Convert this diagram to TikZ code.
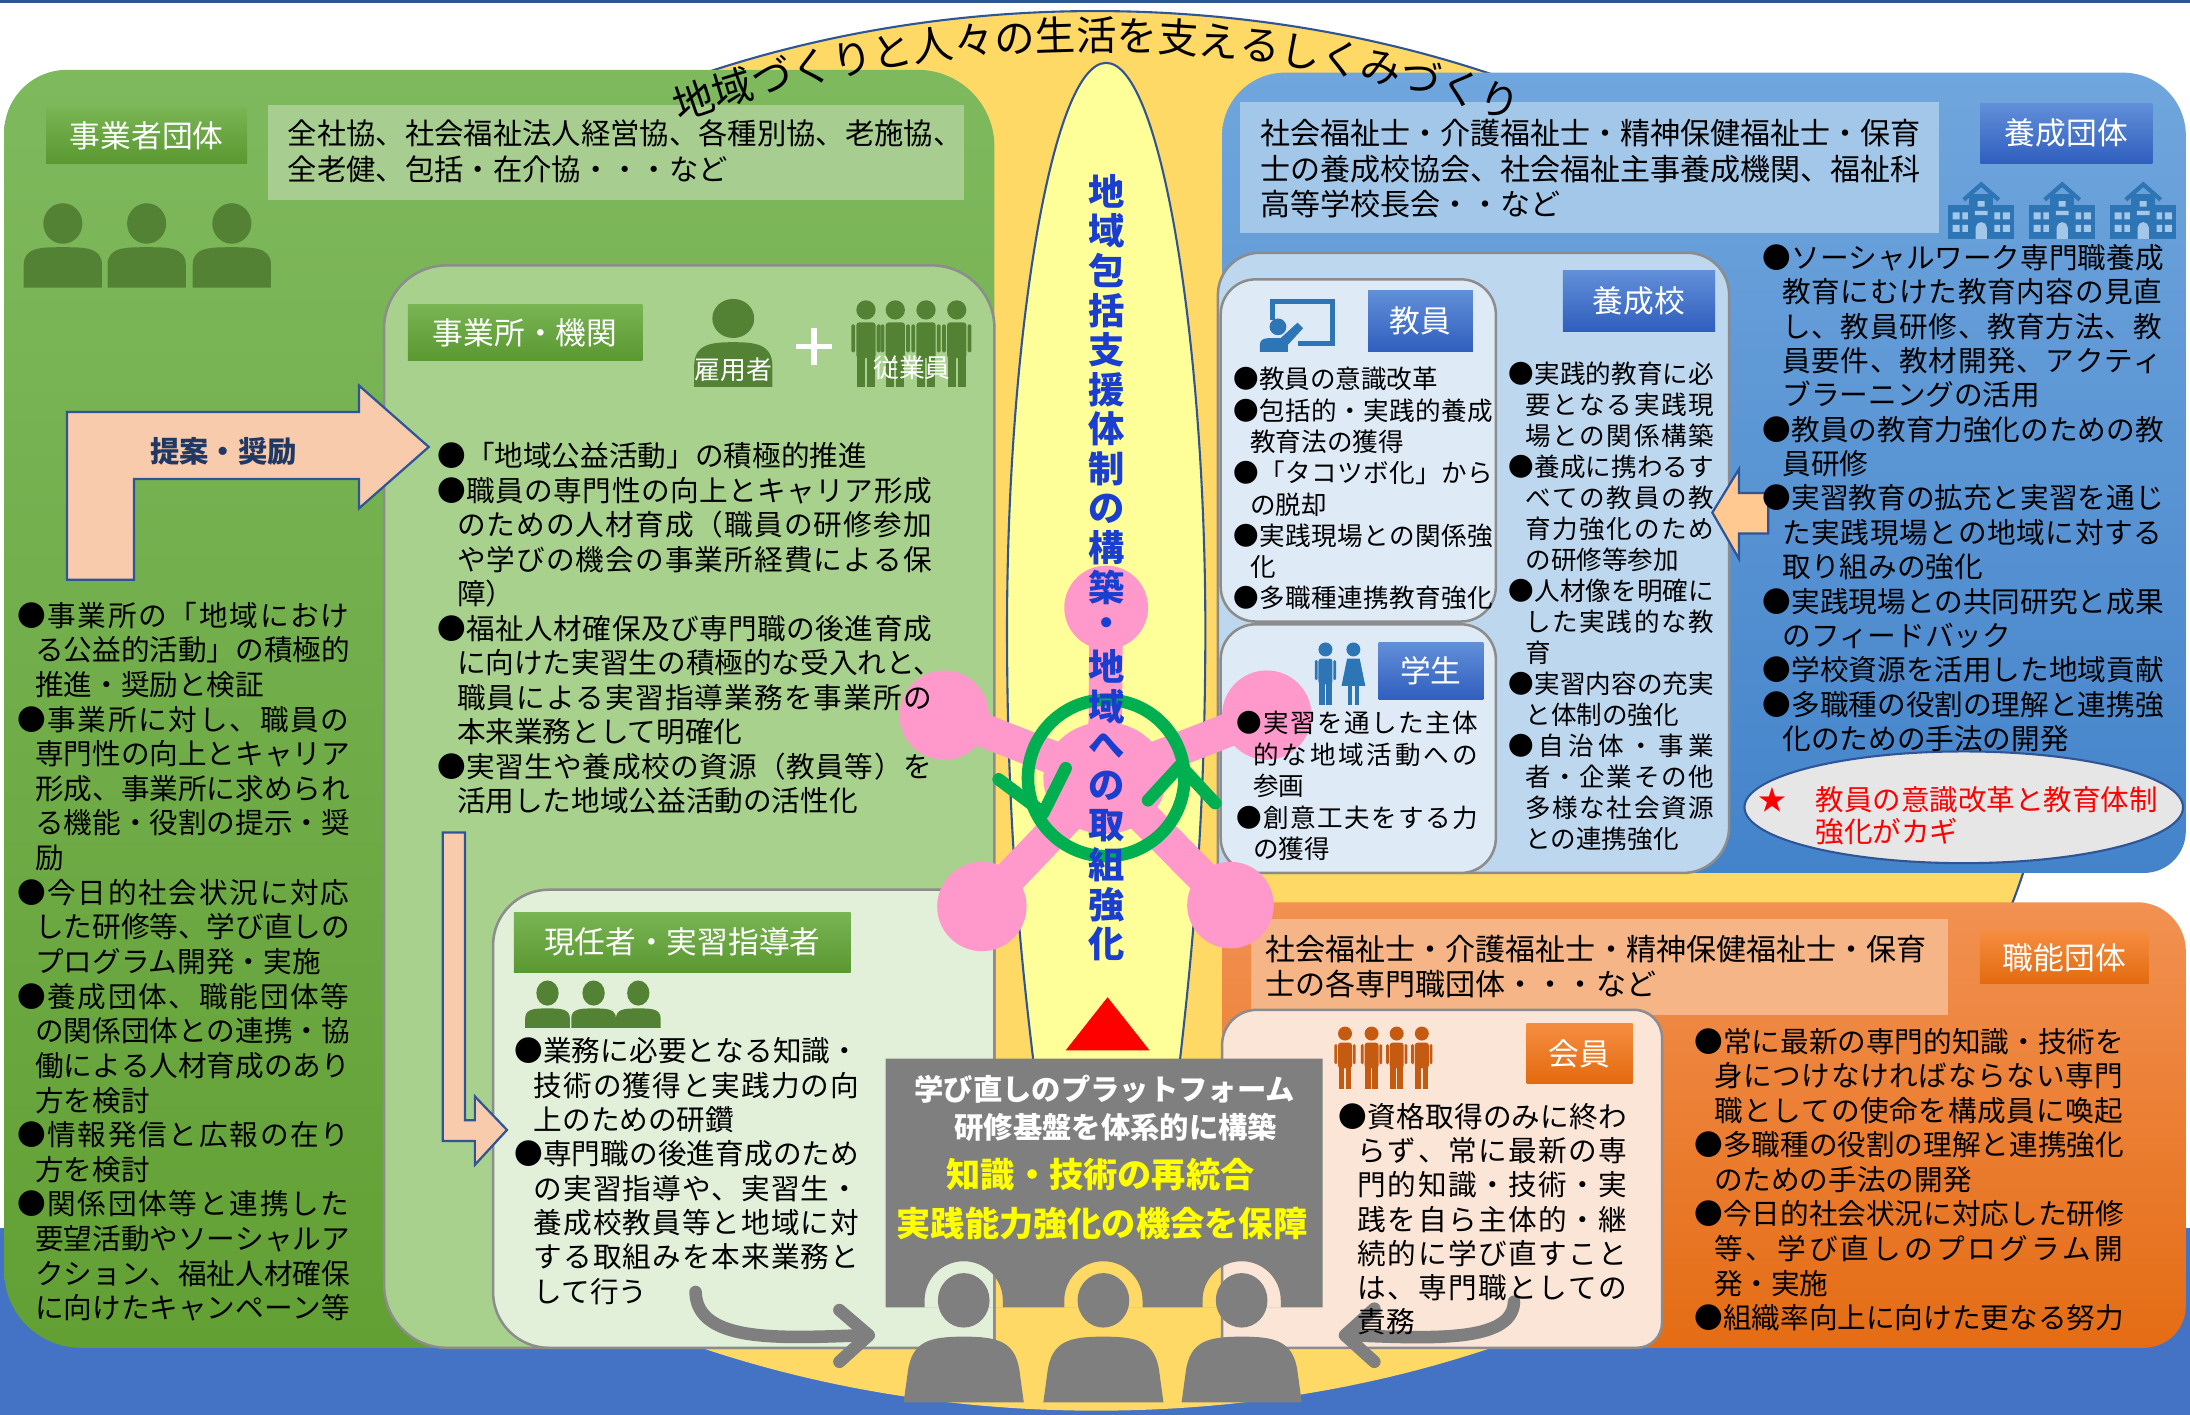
\documentclass[tikz,border=0pt]{standalone}
\usepackage{fontspec}
\setmainfont{Noto Sans CJK JP}
\usetikzlibrary{decorations.text}

\definecolor{navyline}{HTML}{2F5597}
\definecolor{bandblue}{HTML}{4472C4}
\definecolor{gold}{HTML}{FFD966}
\definecolor{paleyel}{HTML}{FFFF99}
\definecolor{grnTop}{HTML}{7FB95E}
\definecolor{grnBot}{HTML}{62A034}
\definecolor{grnLight}{HTML}{A9D18E}
\definecolor{grnPale}{HTML}{E2F0D9}
\definecolor{grnTex}{HTML}{A7CD90}
\definecolor{grnDark}{HTML}{548235}
\definecolor{labGTop}{HTML}{79B553}
\definecolor{labGBot}{HTML}{5A9831}
\definecolor{bluTop}{HTML}{70A6DD}
\definecolor{bluBot}{HTML}{4383CA}
\definecolor{bluLight}{HTML}{BDD7EE}
\definecolor{bluPale}{HTML}{DEEBF7}
\definecolor{bluTex}{HTML}{A3C7E8}
\definecolor{labBTop}{HTML}{628FD8}
\definecolor{labBBot}{HTML}{2F5EBE}
\definecolor{iconBlue}{HTML}{2E75B6}
\definecolor{orTop}{HTML}{F29152}
\definecolor{orBot}{HTML}{E46C14}
\definecolor{orPale}{HTML}{FBE5D6}
\definecolor{orTex}{HTML}{F5B587}
\definecolor{labOTop}{HTML}{F58D40}
\definecolor{labOBot}{HTML}{E36A0E}
\definecolor{orIcon}{HTML}{C55A11}
\definecolor{platGray}{HTML}{7F7F7F}
\definecolor{boxGray}{HTML}{8C8C8C}
\definecolor{pinkc}{HTML}{FF99CC}
\definecolor{ringGreen}{HTML}{00B050}
\definecolor{vtBlue}{HTML}{1A3FD0}
\definecolor{peach}{HTML}{F8CBAD}
\definecolor{peachB}{HTML}{FFC991}
\definecolor{navyText}{HTML}{1F3864}
\definecolor{starFill}{HTML}{E7E6E6}
\definecolor{brightYellow}{HTML}{FFFF00}

% justified line: characters spread over a fixed width
\ExplSyntaxOn
\NewDocumentCommand \jst { m m }
  { \makebox [ #1 ] [ s ] { \tl_map_inline:nn { #2 } { ##1 \hfil } \unskip } }
\ExplSyntaxOff
\newlength\tw
\newlength\ind
\newcommand\jb[1]{\jst{\tw}{#1}}
\newcommand\jc[1]{\hspace*{\ind}\jst{\dimexpr\tw-\ind\relax}{#1}}
\newcommand\nc[1]{\hspace*{\ind}#1}

% rounded rectangle with its own radius at each corner: x1 y1 x2 y2 tl tr br bl
\newcommand\rrect[8]{(#1+#5,#2) -- (#3-#6,#2) arc[start angle=270,end angle=360,radius=#6]
  -- (#3,#4-#7) arc[start angle=0,end angle=90,radius=#7]
  -- (#1+#8,#4) arc[start angle=90,end angle=180,radius=#8]
  -- (#1,#2+#5) arc[start angle=180,end angle=270,radius=#5] -- cycle}

% bust silhouette: x, head y, head rx, head ry, body top, half width, body bottom
\newcommand\bust[7]{%
  \fill (#1,#2) ellipse [x radius=#3, y radius=#4];
  \fill (#1-#6,#7) -- (#1-#6,#5+0.45*#6) .. controls (#1-#6,#5) and (#1-0.55*#6,#5) .. (#1,#5)
    .. controls (#1+0.55*#6,#5) and (#1+#6,#5) .. (#1+#6,#5+0.45*#6) -- (#1+#6,#7) -- cycle;}

% standing figure: x, top y, scale
\newcommand\stand[3]{%
  \fill (#1,#2+5*#3) circle [radius=5*#3];
  \fill[rounded corners=2pt] (#1-5*#3,#2+11.5*#3) rectangle (#1+5*#3,#2+30*#3);
  \fill[rounded corners=1pt] (#1-7.6*#3,#2+12.5*#3) rectangle (#1-5.6*#3,#2+27*#3);
  \fill[rounded corners=1pt] (#1+5.6*#3,#2+12.5*#3) rectangle (#1+7.6*#3,#2+27*#3);
  \fill (#1-4.6*#3,#2+28*#3) rectangle (#1-0.5*#3,#2+45*#3);
  \fill (#1+0.5*#3,#2+28*#3) rectangle (#1+4.6*#3,#2+45*#3);}

% standing figure with skirt
\newcommand\standf[3]{%
  \fill (#1,#2+5*#3) circle [radius=5*#3];
  \fill (#1-4.5*#3,#2+11.5*#3) -- (#1+4.5*#3,#2+11.5*#3) -- (#1+8.5*#3,#2+31*#3) -- (#1-8.5*#3,#2+31*#3) -- cycle;
  \fill (#1-4*#3,#2+30*#3) rectangle (#1-0.8*#3,#2+45*#3);
  \fill (#1+0.8*#3,#2+30*#3) rectangle (#1+4*#3,#2+45*#3);}

% school building: top-left x, y
\newcommand\bldg[2]{%
  \fill[iconBlue] (#1,#2+17) rectangle (#1+47,#2+41);
  \fill[iconBlue] (#1+15,#2+9) rectangle (#1+32,#2+41);
  \draw[iconBlue, line width=3pt] (#1+11,#2+13) -- (#1+23.5,#2+2) -- (#1+36,#2+13);
  \fill[bluTex] (#1+3,#2+22) rectangle ++(5,5) (#1+10,#2+22) rectangle ++(4,5)
    (#1+33,#2+22) rectangle ++(4,5) (#1+39,#2+22) rectangle ++(5,5)
    (#1+3,#2+31) rectangle ++(5,5) (#1+10,#2+31) rectangle ++(4,5)
    (#1+33,#2+31) rectangle ++(4,5) (#1+39,#2+31) rectangle ++(5,5)
    (#1+19,#2+21) rectangle ++(9,3) (#1+21,#2+14) rectangle ++(5,4);
  \fill[bluTex] (#1+19.5,#2+41) -- (#1+19.5,#2+33) arc[start angle=180,end angle=360,radius=4] -- (#1+27.5,#2+41) -- cycle;}

% seated member in front of the platform
\newcommand\seat[1]{%
  \fill (#1,931) ellipse [x radius=18.5, y radius=19.5];
  \fill (#1-43,1004) -- (#1-40,982) .. controls (#1-37,960) and (#1-24,957) .. (#1,957)
    .. controls (#1+24,957) and (#1+37,960) .. (#1+40,982) -- (#1+43,1004) -- cycle;}

\begin{document}
\begin{tikzpicture}[x=1pt,y=-1pt,
  txt/.style={anchor=north west, inner sep=0pt, align=left},
  lab/.style={inner sep=0pt, text=white, font=\fontsize{22}{22}\selectfont},
  glab/.style={lab, top color=labGTop, bottom color=labGBot},
  blab/.style={lab, top color=labBTop, bottom color=labBBot},
  olab/.style={lab, top color=labOTop, bottom color=labOBot},
  frame/.style={draw=boxGray, line width=1.8pt},
  arrowfill/.style={draw=navyline, line width=1.6pt},
  pinkarm/.style={pinkc, line width=24pt},
  ringline/.style={ringGreen, line width=9pt, line cap=round, line join=round},
  grayarrow/.style={platGray, line width=9pt, line cap=round, line join=round},
]
\useasboundingbox (0,0) rectangle (1568,1013);
\fill[white] (0,0) rectangle (1568,1013);
\fill[bandblue] (0,879) rectangle (1568,1013);
\draw[navyline, line width=2.5pt] (0,1) -- (1568,1);

% large community circle
\fill[gold] (785,509) ellipse [x radius=682, y radius=501];
\draw[navyline, line width=1.5pt] (785,509) ++(150:682 and 501) arc[start angle=150, end angle=390, x radius=682, y radius=501];

% ---------- employers' organisations (green) ----------
\shade[top color=grnTop, bottom color=grnBot] \rrect{3}{50}{712}{965}{45}{55}{0.01}{55};
\fill[grnTex] (192,75) rectangle (690,143);
\begin{scope}[fill=grnDark]
  \bust{45}{160}{14}{14.5}{177}{28}{206}
  \bust{105}{160}{14}{14.5}{177}{28}{206}
  \bust{166}{160}{14}{14.5}{177}{28}{206}
\end{scope}
\filldraw[fill=grnLight, frame] \rrect{275}{190}{712}{965}{45}{45}{0.01}{45};
\filldraw[fill=grnPale, frame] \rrect{353}{637}{712}{965}{40}{0.01}{0.01}{40};

% ---------- training organisations (blue) ----------
\shade[top color=bluTop, bottom color=bluBot] \rrect{875}{52}{1565}{625}{45}{45}{30}{0.01};
\fill[bluTex] (888,73) rectangle (1388,167);
\bldg{1395}{130}
\bldg{1453}{130}
\bldg{1511}{130}
\filldraw[fill=bluLight, frame] \rrect{872}{181}{1238}{625}{30}{30}{33}{0.01};
\filldraw[fill=bluPale, frame] \rrect{874}{200}{1071}{445}{25}{25}{25}{25};
\filldraw[fill=bluPale, frame] \rrect{874}{447}{1071}{625}{25}{25}{25}{25};

% ---------- professional associations (orange) ----------
\shade[top color=orTop, bottom color=orBot] \rrect{875}{646}{1565}{965}{0.01}{35}{30}{0.01};
\fill[orTex] (896,658) rectangle (1395,727);
\filldraw[fill=orPale, frame] \rrect{875}{723}{1190}{965}{25}{20}{18}{0.01};

% title along the top of the circle
\path[decorate, decoration={text along path, text align=center,
   text={|\fontsize{29}{29}\selectfont|地域づくりと人々の生活を支えるしくみづくり}}]
  (785,509) ++(225:661 and 473) arc[start angle=225, end angle=315, x radius=661, y radius=473];

% ---------- central column ----------
\filldraw[fill=paleyel, draw=navyline, line width=1.5pt]
  (745,800) .. controls (732,700) and (721,600) .. (721,450)
  .. controls (721,250) and (752,45) .. (792,45)
  .. controls (832,45) and (863,250) .. (863,450)
  .. controls (863,600) and (852,700) .. (840,800) -- cycle;
\fill[red] (793,714) -- (823,752) -- (763,752) -- cycle;

% network of partners
\draw[pinkarm] (791,557) -- (676,512);
\draw[pinkarm] (791,557) -- (907,512);
\draw[pinkarm] (791,557) -- (703,649);
\draw[pinkarm] (791,557) -- (881,648);
\draw[pinkarm] (791,557) -- (792,435);
\fill[pinkc] (792,435) circle [radius=30];
\fill[pinkc] (676,512) circle [radius=32];
\fill[pinkc] (907,512) circle [radius=32];
\fill[pinkc] (703,649) circle [radius=32];
\fill[pinkc] (881,648) circle [radius=31];
\fill[pinkc] (791,557) ellipse [x radius=44, y radius=40];
\draw[ringGreen, line width=9pt] (792,557) circle [radius=56];
\draw[ringline] (715,558) -- (747,582) -- (763,550);
\draw[ringline] (822,573) -- (845,548) -- (870,575);

% learning platform with members
\fill[platGray, even odd rule] (634,758) rectangle (947,936)
  (662,936) -- (662,931) arc[start angle=180,end angle=360,radius=28] -- (718,936) -- cycle
  (762,936) -- (762,931) arc[start angle=180,end angle=360,radius=28] -- (818,936) -- cycle
  (861,936) -- (861,931) arc[start angle=180,end angle=360,radius=28] -- (917,936) -- cycle;
\begin{scope}[fill=platGray]
  \seat{690}
  \seat{790}
  \seat{889}
\end{scope}
\draw[grayarrow] (498,925) .. controls (499,962) and (560,958) .. (618,956);
\draw[grayarrow] (601,938) -- (622,956) -- (601,975);
\draw[grayarrow] (1084,932) .. controls (1083,962) and (1022,958) .. (966,956);
\draw[grayarrow] (984,937) -- (963,956) -- (984,975);

% block arrows
\filldraw[fill=peach, arrowfill] (48,415) -- (48,295) -- (257,295) -- (257,276) -- (307,320)
  -- (257,364) -- (257,343) -- (96,343) -- (96,415) -- cycle;
\filldraw[fill=peach, arrowfill] (317,596) -- (333,596) -- (333,802) -- (340,802) -- (340,785)
  -- (363,809) -- (340,834) -- (340,817) -- (317,817) -- cycle;
\filldraw[fill=peachB, arrowfill] (1226,367) -- (1245,336) -- (1245,353) -- (1266,353)
  -- (1266,382) -- (1245,382) -- (1245,400) -- cycle;

% icons
\begin{scope}[fill=grnDark]
  \fill (525,228) ellipse [x radius=15, y radius=14];
  \fill (497,277) -- (497,262) .. controls (497,246) and (510,245) .. (525,245)
    .. controls (540,245) and (553,246) .. (553,262) -- (553,277) -- cycle;
  \stand{620}{215}{1.38}
  \stand{641}{215}{1.38}
  \stand{663}{215}{1.38}
  \stand{685}{215}{1.38}
  \bust{392}{711}{8}{9}{722}{16}{736}
  \bust{425}{711}{8}{9}{722}{16}{736}
  \bust{457}{711}{8}{9}{722}{16}{736}
\end{scope}
\draw[white, line width=4pt] (570,248) -- (596,248) (583,235) -- (583,261);
\begin{scope}[fill=iconBlue]
  \draw[iconBlue, line width=3.5pt] (911,229) -- (911,216) -- (954,216) -- (954,246) -- (929,246);
  \fill (915,234) circle [radius=6];
  \fill (902,252) -- (902,247) .. controls (902,243) and (905,242) .. (910,242) -- (917,242)
    -- (929,231) -- (933,235) -- (922,247) -- (922,252) -- cycle;
  \stand{949}{460}{1.0}
  \standf{969}{460}{1.0}
\end{scope}
\begin{scope}[fill=orIcon]
  \stand{963}{735}{1.0}
  \stand{982}{735}{1.0}
  \stand{1000}{735}{1.0}
  \stand{1018}{735}{1.0}
\end{scope}

% key message
\filldraw[fill=starFill, draw=navyline, line width=1.5pt] (1406,578) ellipse [x radius=157, y radius=40];
\node (starmark) [text=red, font=\fontsize{20}{20}\selectfont] at (1269,573) {★};
\node (keymsg) [txt, text=red, font=\fontsize{20.4}{23}\selectfont] at (1300,562.8) {教員の意識改革と教育体制\\強化がカギ};

% labels
\node (labA) [glab, minimum width=144pt, minimum height=40pt] at (105,97) {事業者団体};
\node (labB) [glab, minimum width=168pt, minimum height=40pt] at (376,238) {事業所・機関};
\node (labC) [glab, minimum width=241pt, minimum height=43pt] at (488.5,674.5) {現任者・実習指導者};
\node (labD) [blab, minimum width=123pt, minimum height=43pt] at (1479.5,95.5) {養成団体};
\node (labE) [blab, minimum width=109pt, minimum height=43pt] at (1173.5,215.5) {養成校};
\node (labF) [blab, minimum width=75pt, minimum height=44pt] at (1017,230) {教員};
\node (labG) [blab, minimum width=75pt, minimum height=41pt] at (1024.5,480.5) {学生};
\node (labH) [olab, minimum width=121pt, minimum height=38pt] at (1478,685.5) {職能団体};
\node (labI) [olab, minimum width=76pt, minimum height=43pt] at (1131,754.5) {会員};
\node (employer) [text=white, font=\fontsize{18.5}{18.5}\selectfont] at (525,265) {雇用者};
\node (staff) [text=white, font=\fontsize{18.5}{18.5}\selectfont] at (653,263) {従業員};
\node (teian) [text=navyText, font=\bfseries\fontsize{21}{21}\selectfont] at (160,323) {提案・奨励};

% member lists
\node (orgG) [txt, font=\fontsize{21}{26}\selectfont] at (206,85.5)
  {全社協、社会福祉法人経営協、各種別協、老施協、\\全老健、包括・在介協・・・など};
\node (orgB) [txt, font=\fontsize{21.5}{25.5}\selectfont] at (902,85.3)
  {社会福祉士・介護福祉士・精神保健福祉士・保育\\士の養成校協会、社会福祉主事養成機関、福祉科\\高等学校長会・・など};
\node (orgO) [txt, font=\fontsize{21.5}{25}\selectfont] at (906,669.3)
  {社会福祉士・介護福祉士・精神保健福祉士・保育\\士の各専門職団体・・・など};

% employers' organisations
\setlength\tw{238pt}\setlength\ind{13pt}
\node (listA) [txt, font=\fontsize{20.5}{24.8}\selectfont] at (12,430.75) {%
\jb{●事業所の「地域におけ}\\
\jc{る公益的活動」の積極的}\\
\nc{推進・奨励と検証}\\
\jb{●事業所に対し、職員の}\\
\jc{専門性の向上とキャリア}\\
\jc{形成、事業所に求められ}\\
\jc{る機能・役割の提示・奨}\\
\nc{励}\\
\jb{●今日的社会状況に対応}\\
\jc{した研修等、学び直しの}\\
\nc{プログラム開発・実施}\\
\jb{●養成団体、職能団体等}\\
\jc{の関係団体との連携・協}\\
\jc{働による人材育成のあり}\\
\nc{方を検討}\\
\jb{●情報発信と広報の在り}\\
\nc{方を検討}\\
\jb{●関係団体等と連携した}\\
\jc{要望活動やソーシャルア}\\
\jc{クション、福祉人材確保}\\
\jc{に向けたキャンペーン等}};

% offices and institutions
\setlength\tw{354pt}\setlength\ind{14pt}
\node (listB) [txt, font=\fontsize{20.5}{24.7}\selectfont] at (313,316.75) {%
●「地域公益活動」の積極的推進\\
\jb{●職員の専門性の向上とキャリア形成}\\
\jc{のための人材育成（職員の研修参加}\\
\jc{や学びの機会の事業所経費による保}\\
\nc{障）}\\
\jb{●福祉人材確保及び専門職の後進育成}\\
\nc{に向けた実習生の積極的な受入れと、}\\
\jc{職員による実習指導業務を事業所の}\\
\nc{本来業務として明確化}\\
\jb{●実習生や養成校の資源（教員等）を}\\
\nc{活用した地域公益活動の活性化}};

% current workers and supervisors
\setlength\tw{247pt}\setlength\ind{14pt}
\node (listC) [txt, font=\fontsize{20.5}{24.6}\selectfont] at (368,742.75) {%
\jb{●業務に必要となる知識・}\\
\jc{技術の獲得と実践力の向}\\
\nc{上のための研鑽}\\
\jb{●専門職の後進育成のため}\\
\jc{の実習指導や、実習生・}\\
\jc{養成校教員等と地域に対}\\
\jc{する取組みを本来業務と}\\
\nc{して行う}};

% training organisations
\setlength\tw{286pt}\setlength\ind{14pt}
\node (listD) [txt, font=\fontsize{20.5}{24.6}\selectfont] at (1262,174.75) {%
\jb{●ソーシャルワーク専門職養成}\\
\jc{教育にむけた教育内容の見直}\\
\jc{し、教員研修、教育方法、教}\\
\jc{員要件、教材開発、アクティ}\\
\nc{ブラーニングの活用}\\
\jb{●教員の教育力強化のための教}\\
\nc{員研修}\\
\jb{●実習教育の拡充と実習を通じ}\\
\jc{た実践現場との地域に対する}\\
\nc{取り組みの強化}\\
\jb{●実践現場との共同研究と成果}\\
\nc{のフィードバック}\\
\jb{●学校資源を活用した地域貢献}\\
\jb{●多職種の役割の理解と連携強}\\
\nc{化のための手法の開発}};

% teachers
\setlength\tw{186pt}\setlength\ind{12pt}
\node (listE) [txt, font=\fontsize{18.3}{22.4}\selectfont] at (883,262.85) {%
●教員の意識改革\\
\jb{●包括的・実践的養成}\\
\nc{教育法の獲得}\\
\jb{●「タコツボ化」から}\\
\nc{の脱却}\\
\jb{●実践現場との関係強}\\
\nc{化}\\
\jb{●多職種連携教育強化}};

% schools
\setlength\tw{147pt}\setlength\ind{12pt}
\node (listF) [txt, font=\fontsize{18.3}{22.2}\selectfont] at (1080,258.85) {%
\jb{●実践的教育に必}\\
\jc{要となる実践現}\\
\jc{場との関係構築}\\
\jb{●養成に携わるす}\\
\jc{べての教員の教}\\
\jc{育力強化のため}\\
\nc{の研修等参加}\\
\jb{●人材像を明確に}\\
\jc{した実践的な教}\\
\nc{育}\\
\jb{●実習内容の充実}\\
\nc{と体制の強化}\\
\jb{●自治体・事業}\\
\jc{者・企業その他}\\
\jc{多様な社会資源}\\
\nc{との連携強化}};

% students
\setlength\tw{173pt}\setlength\ind{12pt}
\node (listG) [txt, font=\fontsize{18.3}{22.6}\selectfont] at (885,508.85) {%
\jb{●実習を通した主体}\\
\jc{的な地域活動への}\\
\nc{参画}\\
\jb{●創意工夫をする力}\\
\nc{の獲得}};

% members
\setlength\tw{207pt}\setlength\ind{14pt}
\node (listH) [txt, font=\fontsize{20.5}{24.5}\selectfont] at (958,789.75) {%
\jb{●資格取得のみに終わ}\\
\jc{らず、常に最新の専}\\
\jc{門的知識・技術・実}\\
\jc{践を自ら主体的・継}\\
\jc{続的に学び直すこと}\\
\jc{は、専門職としての}\\
\nc{責務}};

% professional associations
\setlength\tw{307pt}\setlength\ind{14pt}
\node (listI) [txt, font=\fontsize{20.5}{24.75}\selectfont] at (1213,735.75) {%
\jb{●常に最新の専門的知識・技術を}\\
\jc{身につけなければならない専門}\\
\jc{職としての使命を構成員に喚起}\\
\jb{●多職種の役割の理解と連携強化}\\
\nc{のための手法の開発}\\
\jb{●今日的社会状況に対応した研修}\\
\jc{等、学び直しのプログラム開}\\
\nc{発・実施}\\
\jb{●組織率向上に向けた更なる努力}};

% platform captions
\node (pf1) [text=white, font=\bfseries\fontsize{21}{21}\selectfont] at (791,780) {学び直しのプラットフォーム};
\node (pf2) [text=white, font=\bfseries\fontsize{21}{21}\selectfont] at (799,807) {研修基盤を体系的に構築};
\node (pf3) [text=brightYellow, font=\bfseries\fontsize{24.5}{24.5}\selectfont] at (788,841) {知識・技術の再統合};
\node (pf4) [text=brightYellow, font=\bfseries\fontsize{24.5}{24.5}\selectfont] at (789,876) {実践能力強化の機会を保障};

% vertical title
\foreach \c [count=\i from 0] in {地,域,包,括,支,援,体,制,の,構,築,・,地,域,へ,の,取,組,強,化}
  \node (vt\i) [inner sep=0pt, text=vtBlue, font=\bfseries\fontsize{26}{26}\selectfont] at (792,137+28.37*\i) {\c};
\end{tikzpicture}
\end{document}
